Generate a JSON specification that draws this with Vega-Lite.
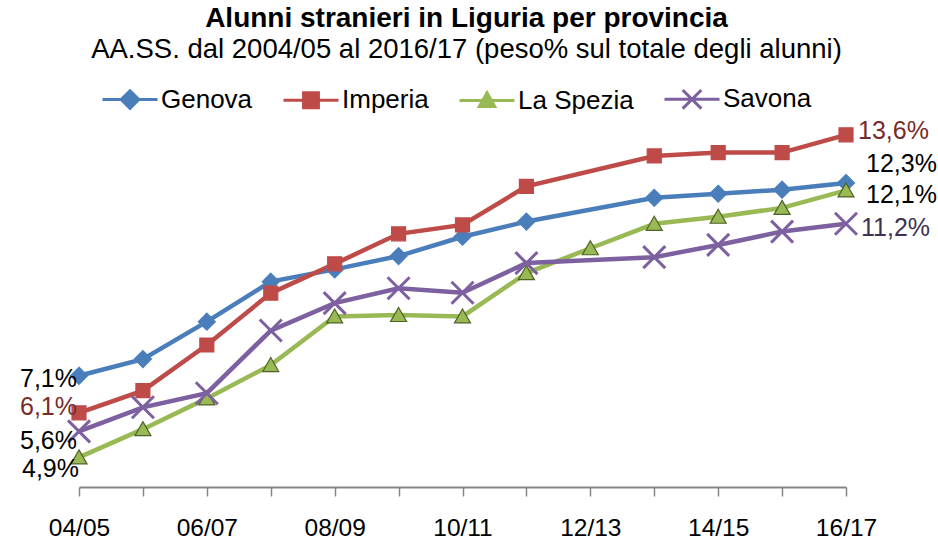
{
  "$schema": "https://vega.github.io/schema/vega-lite/v6.json",
  "autosize": "none",
  "width": 767,
  "height": 367,
  "padding": {"left": 79, "top": 120, "right": 92, "bottom": 53},
  "background": "white",
  "config": {
    "view": {"stroke": null},
    "font": "Liberation Sans",
    "locale": {"number": {"decimal": ",", "thousands": ".", "grouping": [3], "currency": ["", " €"]}}
  },
  "title": {
    "text": "Alunni stranieri in Liguria per provincia",
    "subtitle": "AA.SS. dal 2004/05 al 2016/17 (peso% sul totale degli alunni)",
    "anchor": "middle",
    "frame": "group",
    "fontSize": 28,
    "fontWeight": "bold",
    "color": "#000000",
    "subtitleFontSize": 27.5,
    "subtitleColor": "#000000",
    "subtitlePadding": 3,
    "dx": 4,
    "offset": 7
  },
  "data": {
    "values": [
      {"year": "04/05", "series": "Genova", "value": 0.071},
      {"year": "05/06", "series": "Genova", "value": 0.0755},
      {"year": "06/07", "series": "Genova", "value": 0.0856},
      {"year": "07/08", "series": "Genova", "value": 0.0964},
      {"year": "08/09", "series": "Genova", "value": 0.0997},
      {"year": "09/10", "series": "Genova", "value": 0.1033},
      {"year": "10/11", "series": "Genova", "value": 0.1085},
      {"year": "11/12", "series": "Genova", "value": 0.1126},
      {"year": "13/14", "series": "Genova", "value": 0.119},
      {"year": "14/15", "series": "Genova", "value": 0.1201},
      {"year": "15/16", "series": "Genova", "value": 0.1212},
      {"year": "16/17", "series": "Genova", "value": 0.123},
      {"year": "04/05", "series": "Imperia", "value": 0.061},
      {"year": "05/06", "series": "Imperia", "value": 0.067},
      {"year": "06/07", "series": "Imperia", "value": 0.0793},
      {"year": "07/08", "series": "Imperia", "value": 0.0933},
      {"year": "08/09", "series": "Imperia", "value": 0.1012},
      {"year": "09/10", "series": "Imperia", "value": 0.1093},
      {"year": "10/11", "series": "Imperia", "value": 0.1117},
      {"year": "11/12", "series": "Imperia", "value": 0.1221},
      {"year": "13/14", "series": "Imperia", "value": 0.1303},
      {"year": "14/15", "series": "Imperia", "value": 0.1312},
      {"year": "15/16", "series": "Imperia", "value": 0.1312},
      {"year": "16/17", "series": "Imperia", "value": 0.136},
      {"year": "04/05", "series": "La Spezia", "value": 0.049},
      {"year": "05/06", "series": "La Spezia", "value": 0.0566},
      {"year": "06/07", "series": "La Spezia", "value": 0.0649},
      {"year": "07/08", "series": "La Spezia", "value": 0.0739},
      {"year": "08/09", "series": "La Spezia", "value": 0.087},
      {"year": "09/10", "series": "La Spezia", "value": 0.0874},
      {"year": "10/11", "series": "La Spezia", "value": 0.087},
      {"year": "11/12", "series": "La Spezia", "value": 0.0987},
      {"year": "12/13", "series": "La Spezia", "value": 0.1054},
      {"year": "13/14", "series": "La Spezia", "value": 0.112},
      {"year": "14/15", "series": "La Spezia", "value": 0.1139},
      {"year": "15/16", "series": "La Spezia", "value": 0.1163},
      {"year": "16/17", "series": "La Spezia", "value": 0.121},
      {"year": "04/05", "series": "Savona", "value": 0.056},
      {"year": "05/06", "series": "Savona", "value": 0.0625},
      {"year": "06/07", "series": "Savona", "value": 0.0663},
      {"year": "07/08", "series": "Savona", "value": 0.0832},
      {"year": "08/09", "series": "Savona", "value": 0.0906},
      {"year": "09/10", "series": "Savona", "value": 0.0946},
      {"year": "10/11", "series": "Savona", "value": 0.0934},
      {"year": "11/12", "series": "Savona", "value": 0.1014},
      {"year": "13/14", "series": "Savona", "value": 0.103},
      {"year": "14/15", "series": "Savona", "value": 0.1063},
      {"year": "15/16", "series": "Savona", "value": 0.1099},
      {"year": "16/17", "series": "Savona", "value": 0.112}
    ]
  },
  "encoding": {
    "x": {
      "field": "year",
      "type": "ordinal",
      "sort": ["04/05","05/06","06/07","07/08","08/09","09/10","10/11","11/12","12/13","13/14","14/15","15/16","16/17"],
      "scale": {"type": "point", "padding": 0, "domain": ["04/05","05/06","06/07","07/08","08/09","09/10","10/11","11/12","12/13","13/14","14/15","15/16","16/17"]},
      "axis": {
        "title": null,
        "grid": false,
        "domainColor": "#868686",
        "domainWidth": 2,
        "tickColor": "#868686",
        "tickWidth": 1.5,
        "tickSize": 9,
        "labelAngle": 0,
        "labelFontSize": 24.5,
        "labelColor": "#000000",
        "labelPadding": 20,
        "labelOverlap": false,
        "labelFlush": false,
        "labelExpr": "indexof(['05/06','07/08','09/10','11/12','13/14','15/16'], datum.value) >= 0 ? '' : datum.value"
      }
    },
    "y": {
      "field": "value",
      "type": "quantitative",
      "scale": {"domain": [0.041, 0.14], "nice": false, "zero": false},
      "axis": null
    }
  },
  "layer": [
    {
      "mark": {"type": "line", "strokeWidth": 4.5},
      "encoding": {
        "color": {
          "field": "series",
          "type": "nominal",
          "title": null,
          "scale": {"domain": ["Genova","Imperia","La Spezia","Savona"], "range": ["#4A7EBB","#BE4B48","#98B954","#7D60A0"]},
          "legend": {
            "orient": "none",
            "legendX": 22,
            "legendY": -50,
            "direction": "horizontal",
            "title": null,
            "labelFontSize": 26,
            "labelColor": "#000000",
            "labelFont": "Liberation Sans",
            "symbolSize": 3025,
            "labelOffset": 2,
            "columnPadding": 24,
            "encoding": {
              "symbols": {
                "size": {"value": 3025},
                "opacity": {"value": 1},
                "strokeWidth": {"value": 3},
                "shape": {
                  "condition": [
                    {"test": "datum.value === 'Genova'", "value": "M-1,0L1,0M0,-0.32L0.32,0L0,0.32L-0.32,0Z"},
                    {"test": "datum.value === 'Imperia'", "value": "M-1,0L1,0M-0.27,-0.27L0.27,-0.27L0.27,0.27L-0.27,0.27Z"},
                    {"test": "datum.value === 'La Spezia'", "value": "M-1,0L1,0M0,-0.28L0.28,0.22L-0.28,0.22Z"}
                  ],
                  "value": "M-1,0L1,0M-0.34,-0.34L0.34,0.34M-0.34,0.34L0.34,-0.34"
                },
                "fill": {
                  "condition": [
                    {"test": "datum.value === 'Genova'", "value": "#4A7EBB"},
                    {"test": "datum.value === 'Imperia'", "value": "#BE4B48"},
                    {"test": "datum.value === 'La Spezia'", "value": "#98B954"}
                  ],
                  "value": "#7D60A0"
                },
                "stroke": {
                  "condition": [
                    {"test": "datum.value === 'Genova'", "value": "#4A7EBB"},
                    {"test": "datum.value === 'Imperia'", "value": "#BE4B48"},
                    {"test": "datum.value === 'La Spezia'", "value": "#98B954"}
                  ],
                  "value": "#7D60A0"
                }
              }
            }
          }
        }
      }
    },
    {
      "mark": {"type": "point", "filled": true, "size": 400, "opacity": 1},
      "encoding": {
        "color": {
          "field": "series",
          "type": "nominal",
          "title": null,
          "scale": {"domain": ["Genova","Imperia","La Spezia","Savona"], "range": ["#4A7EBB","#BE4B48","#98B954","#7D60A0"]}
        },
        "shape": {
          "condition": [
            {"test": "datum.series === 'Genova'", "value": "M0,-0.85L0.85,0L0,0.85L-0.85,0Z"},
            {"test": "datum.series === 'Imperia'", "value": "M-0.7,-0.7L0.7,-0.7L0.7,0.7L-0.7,0.7Z"},
            {"test": "datum.series === 'La Spezia'", "value": "M0,-0.75L0.8,0.65L-0.8,0.65Z"}
          ],
          "value": "M-1.1,-1.1L1.1,1.1M-1.1,1.1L1.1,-1.1"
        },
        "stroke": {
          "condition": {"test": "datum.series === 'La Spezia'", "value": "#4F6228"},
          "field": "series",
          "type": "nominal",
          "scale": {"domain": ["Genova","Imperia","La Spezia","Savona"], "range": ["#4A7EBB","#BE4B48","#98B954","#7D60A0"]},
          "legend": null
        },
        "strokeWidth": {
          "condition": {"test": "datum.series === 'Savona'", "value": 3},
          "value": 1.2
        }
      }
    },
    {
      "transform": [{"filter": "datum.series === 'Genova' && datum.year === '04/05'"}],
      "mark": {"type": "text", "align": "right", "baseline": "middle", "dx": -2, "dy": 3, "fontSize": 25, "color": "#000000"},
      "encoding": {"text": {"field": "value", "type": "quantitative", "format": ".1%"}}
    },
    {
      "transform": [{"filter": "datum.series === 'Imperia' && datum.year === '04/05'"}],
      "mark": {"type": "text", "align": "right", "baseline": "middle", "dx": -2, "dy": -6, "fontSize": 25, "color": "#772C2A"},
      "encoding": {"text": {"field": "value", "type": "quantitative", "format": ".1%"}}
    },
    {
      "transform": [{"filter": "datum.series === 'Savona' && datum.year === '04/05'"}],
      "mark": {"type": "text", "align": "right", "baseline": "middle", "dx": -2, "dy": 10, "fontSize": 25, "color": "#000000"},
      "encoding": {"text": {"field": "value", "type": "quantitative", "format": ".1%"}}
    },
    {
      "transform": [{"filter": "datum.series === 'La Spezia' && datum.year === '04/05'"}],
      "mark": {"type": "text", "align": "right", "baseline": "middle", "dx": 0, "dy": 12, "fontSize": 25, "color": "#000000"},
      "encoding": {"text": {"field": "value", "type": "quantitative", "format": ".1%"}}
    },
    {
      "transform": [{"filter": "datum.series === 'Imperia' && datum.year === '16/17'"}],
      "mark": {"type": "text", "align": "left", "baseline": "middle", "dx": 12, "dy": -4, "fontSize": 25, "color": "#772C2A"},
      "encoding": {"text": {"field": "value", "type": "quantitative", "format": ".1%"}}
    },
    {
      "transform": [{"filter": "datum.series === 'Genova' && datum.year === '16/17'"}],
      "mark": {"type": "text", "align": "left", "baseline": "middle", "dx": 20, "dy": -19, "fontSize": 25, "color": "#000000"},
      "encoding": {"text": {"field": "value", "type": "quantitative", "format": ".1%"}}
    },
    {
      "transform": [{"filter": "datum.series === 'La Spezia' && datum.year === '16/17'"}],
      "mark": {"type": "text", "align": "left", "baseline": "middle", "dx": 20, "dy": 5, "fontSize": 25, "color": "#000000"},
      "encoding": {"text": {"field": "value", "type": "quantitative", "format": ".1%"}}
    },
    {
      "transform": [{"filter": "datum.series === 'Savona' && datum.year === '16/17'"}],
      "mark": {"type": "text", "align": "left", "baseline": "middle", "dx": 15, "dy": 4, "fontSize": 25, "color": "#403152"},
      "encoding": {"text": {"field": "value", "type": "quantitative", "format": ".1%"}}
    }
  ]
}
